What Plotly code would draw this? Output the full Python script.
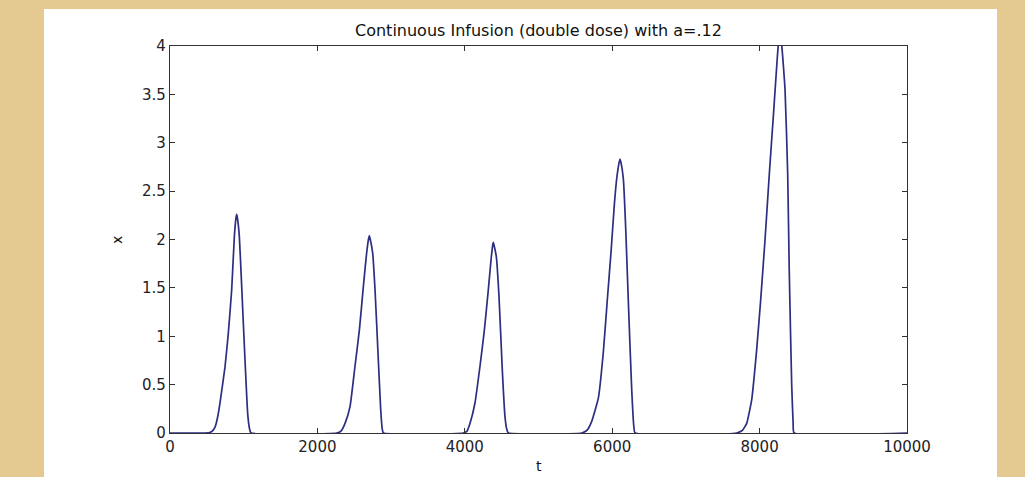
import plotly.graph_objects as go

# Simulated drug concentration x(t) under continuous infusion (double dose), a = .12
# Each pulse listed as (t, x) samples; the state sits at 0 between pulses.
pulse1_t = [0, 475, 540, 580, 611, 645, 678, 746, 791, 837, 873, 895, 905, 915, 941, 973, 1018, 1054, 1080, 1099]
pulse1_x = [0, 0, 0.005, 0.025, 0.06, 0.16, 0.31, 0.68, 1.03, 1.48, 2.03, 2.22, 2.26, 2.22, 2.03, 1.51, 0.75, 0.20, 0.04, 0]

pulse2_t = [2262, 2320, 2375, 2442, 2510, 2569, 2623, 2668, 2695, 2705, 2715, 2750, 2782, 2827, 2859, 2880, 2895]
pulse2_x = [0, 0.02, 0.10, 0.27, 0.69, 1.06, 1.51, 1.86, 2.01, 2.04, 2.01, 1.86, 1.48, 0.75, 0.24, 0.04, 0]

pulse3_t = [3980, 4030, 4071, 4138, 4206, 4265, 4319, 4356, 4378, 4387, 4397, 4428, 4464, 4509, 4545, 4572, 4591]
pulse3_x = [0, 0.02, 0.10, 0.31, 0.69, 1.06, 1.48, 1.79, 1.94, 1.97, 1.94, 1.82, 1.41, 0.65, 0.17, 0.03, 0]

pulse4_t = [5586, 5660, 5722, 5812, 5880, 5935, 5984, 6029, 6061, 6095, 6106, 6118, 6151, 6183, 6219, 6264, 6292, 6310]
pulse4_x = [0, 0.03, 0.12, 0.36, 0.84, 1.39, 1.87, 2.36, 2.63, 2.80, 2.83, 2.80, 2.63, 2.12, 1.36, 0.46, 0.08, 0]

pulse5_t = [7689, 7770, 7825, 7892, 7960, 8014, 8073, 8132, 8186, 8232, 8254, 8276, 8299, 8345, 8381,
            8403, 8435, 8455, 8467, 10000]
pulse5_x = [0, 0.03, 0.10, 0.34, 0.86, 1.37, 1.99, 2.68, 3.27, 3.79, 4.01, 4.08, 4.01, 3.55, 2.68,
            1.65, 0.51, 0.10, 0, 0]

t_vals = pulse1_t + pulse2_t + pulse3_t + pulse4_t + pulse5_t
x_vals = pulse1_x + pulse2_x + pulse3_x + pulse4_x + pulse5_x

x_ticks = [0, 2000, 4000, 6000, 8000, 10000]
y_ticks = [0, 0.5, 1, 1.5, 2, 2.5, 3, 3.5, 4]
y_tick_text = ["0", "0.5", "1", "1.5", "2", "2.5", "3", "3.5", "4"]

W, H = 1025, 477
L, R, T, B = 170, 118, 46, 44
FONT = "DejaVu Sans"

fig = go.Figure()
fig.add_trace(go.Scatter(
    x=t_vals, y=x_vals, mode="lines",
    line=dict(color="#2d2d82", width=1.7, shape="spline", smoothing=0.4),
    showlegend=False, hoverinfo="skip",
))

axis_common = dict(
    showgrid=False, zeroline=False, showline=True, linecolor="#333333", linewidth=1.2,
    mirror="ticks", ticks="inside", ticklen=5, tickwidth=1.2, tickcolor="#333333",
    tickfont=dict(family=FONT, size=15, color="#222222"),
)

fig.update_layout(
    width=W, height=H,
    margin=dict(l=L, r=R, t=T, b=B),
    paper_bgcolor="#e4ca90",
    plot_bgcolor="white",
    xaxis=dict(range=[0, 10000], tickvals=x_ticks, ticktext=[str(v) for v in x_ticks], **axis_common),
    yaxis=dict(range=[0, 4], tickvals=y_ticks, ticktext=y_tick_text, **axis_common),
    shapes=[dict(
        type="rect", xref="paper", yref="paper", layer="below",
        x0=(44 - L) / (W - L - R), x1=(997 - L) / (W - L - R),
        y0=(H - B - 477) / (H - T - B), y1=(H - B - 9) / (H - T - B),
        fillcolor="white", line=dict(width=0),
    )],
    annotations=[
        dict(text="Continuous Infusion (double dose) with a=.12", xref="paper", yref="paper",
             x=0.5, y=(H - B - 30) / (H - T - B), xanchor="center", yanchor="middle",
             showarrow=False, font=dict(family=FONT, size=16, color="#111111")),
        dict(text="t", xref="paper", yref="paper",
             x=0.5, y=(H - B - 466) / (H - T - B), xanchor="center", yanchor="middle",
             showarrow=False, font=dict(family=FONT, size=14, color="#111111")),
        dict(text="x", xref="paper", yref="paper",
             x=(117 - L) / (W - L - R), y=(H - B - 240) / (H - T - B),
             xanchor="center", yanchor="middle", textangle=-90,
             showarrow=False, font=dict(family=FONT, size=14, color="#111111")),
    ],
)

fig.write_html("out.html")
